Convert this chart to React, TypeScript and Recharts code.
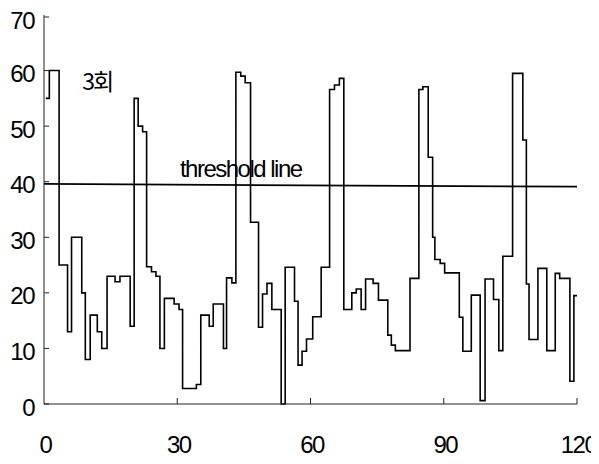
import { LineChart, Line, XAxis, YAxis, ReferenceLine, ReferenceDot } from 'recharts';

// step start positions (x) and the level held from there on
const stepX = [
    0.4, 1.2, 3.4, 5.3, 6.2, 8.5, 9.3, 10.4, 12, 13, 14.2, 16, 17.1, 19.4,
    20.3, 21.2, 22.2, 23.1, 24.2, 25.2, 26.1, 27.1, 29.3, 30.4, 31.2, 34.3, 35.3, 37.2,
    38.1, 40.4, 41.1, 42.3, 43.2, 44.3, 45.3, 46.5, 48.3, 49.2, 50.2, 51.3, 53.4, 54.3,
    56.4, 57.2, 58.1, 59.1, 60.5, 62.4, 64.3, 65.4, 66.5, 67.5, 69.3, 70.3, 71.4, 72.4,
    74.1, 75.3, 77.4, 78.2, 79.1, 82.4, 84.4, 85.3, 86.5, 87.5, 88, 89.2, 90.2, 93.5,
    94.3, 96.2, 98.2, 99.3, 101.2, 102.4, 103.3, 105.5, 107.8, 108.6, 109.2, 111.2, 113.2, 115.1,
    116.1, 118.4, 119.3, 120,
];
const stepY = [
    55, 60, 25, 13, 30, 20, 8, 16, 13, 10, 23, 22, 23, 14,
    55, 50, 49, 24.7, 23.8, 23, 10, 19, 18, 17, 2.8, 3.5, 16, 14,
    18, 10, 22.7, 21.8, 59.7, 59, 57.8, 32.7, 13.8, 19.8, 21.7, 17, 0, 24.6,
    18.5, 7, 9.5, 11.7, 15.7, 24.6, 56.6, 57.4, 58.6, 17, 20, 20.7, 17, 22.5,
    21.7, 18.7, 12.4, 10.6, 9.6, 22.6, 56.6, 57.1, 44.4, 30, 26, 25.3, 23.6, 15.6,
    9.5, 19.6, 0.6, 22.5, 18.8, 9.6, 26.6, 59.5, 47.5, 21.6, 11.6, 24.4, 9.6, 23.5,
    22.6, 4.1, 19.5, 19.5,
];

const xTicks = [0, 30, 60, 90, 120];
const yTicks = [0, 10, 20, 30, 40, 50, 60, 70];
const threshold = [39.6, 39.1]; // level at x = 0 and x = 120

const data = stepX.map((x, i) => ({ x, v: stepY[i] }));

const font = '"Liberation Sans", Arial, sans-serif';

const XTick = ({ x, y, payload }: any) => (
    <g>
        {payload.value !== 0 && <line x1={x} y1={y} x2={x} y2={y - 6} stroke="#222" />}
        <text x={x + 1.5} y={y + 49} textAnchor="middle" fontSize={24} fontFamily={font} letterSpacing={-1.5} fill="#000">
            {payload.value}
        </text>
    </g>
);

const YTick = ({ x, y, payload }: any) => (
    <g>
        <line x1={x} y1={y} x2={x + 5} y2={y} stroke="#222" />
        <text x={x - 10} y={y + 11.5} textAnchor="end" fontSize={24} fontFamily={font} letterSpacing={-1.5} fill="#000">
            {payload.value}
        </text>
    </g>
);

export default function App() {
    return (
        <LineChart
            width={591}
            height={456}
            data={data}
            margin={{ top: 7, right: 22, left: 0, bottom: 0 }}
            style={{ overflow: 'visible' }}
        >
            <XAxis
                dataKey="x"
                type="number"
                domain={[0, 120]}
                ticks={xTicks}
                height={60}
                tickSize={0}
                tickMargin={0}
                tickLine={false}
                axisLine={{ stroke: '#222' }}
                tick={<XTick />}
            />
            <YAxis
                type="number"
                domain={[0, 70]}
                ticks={yTicks}
                width={36}
                tickSize={0}
                tickMargin={0}
                tickLine={false}
                axisLine={{ stroke: '#222' }}
                tick={<YTick />}
            />
            <ReferenceLine
                segment={[{ x: 0, y: threshold[0] }, { x: 120, y: threshold[1] }]}
                stroke="#000"
                strokeWidth={1.8}
            />
            <Line
                type="stepAfter"
                dataKey="v"
                stroke="#000"
                strokeWidth={1.6}
                dot={false}
                isAnimationActive={false}
            />
            <ReferenceDot
                x={12}
                y={58}
                r={0}
                label={{ value: '3회', position: 'center', fontSize: 23, fill: '#000', fontFamily: '"Noto Sans CJK KR", sans-serif', letterSpacing: -2 }}
            />
            <ReferenceDot
                x={44.3}
                y={42.4}
                r={0}
                label={{ value: 'threshold line', position: 'center', fontSize: 24, fill: '#000', fontFamily: font, letterSpacing: -1.5 }}
            />
        </LineChart>
    );
}
